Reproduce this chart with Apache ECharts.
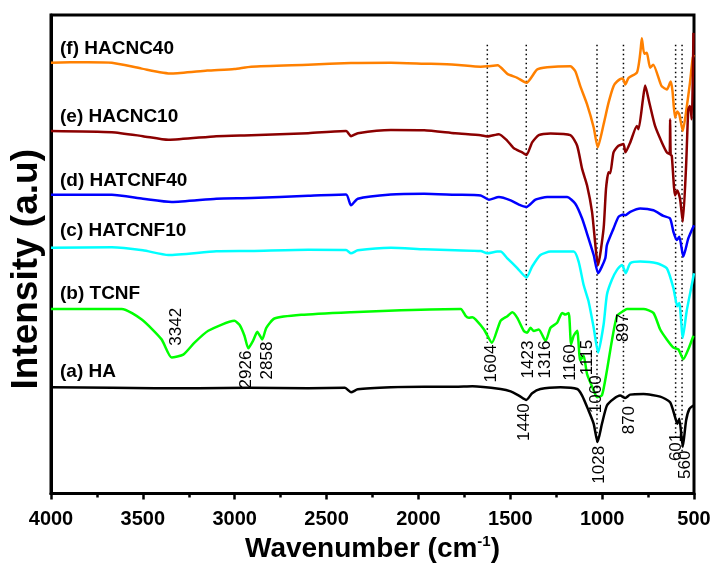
<!DOCTYPE html>
<html><head><meta charset="utf-8">
<script src="https://cdn.jsdelivr.net/npm/echarts/dist/echarts.min.js"></script>
<style>html,body{margin:0;padding:0;background:#fff}#c{width:714px;height:568px}</style>
</head><body><div id="c"></div>
<script>
// ---- data (wavenumber cm-1, intensity a.u. with stacking offset) ----
const seriesNames = ['(f) HACNC40', '(e) HACNC10', '(d) HATCNF40', '(c) HATCNF10', '(b) TCNF', '(a) HA'];
const seriesColors = ['#FF8000', '#8B0000', '#0000FF', '#00FFFF', '#00FF00', '#000000'];
const seriesLabelLevel = [448, 380, 315, 265, 201, 123];
const seriesLabelAt = 3951;

const specF = [[4000,434],[3800,434.5],[3669,434],[3506,428],[3343,423],[3150,426],[3002,427.7],[2910,430],[2600,432],[2367,433.7],[2150,434],[1969,433],[1800,432],[1661,430],[1625,430.3],[1569,431.3],[1516,422.7],[1462,418.7],[1412,413.7],[1354,427],[1299,429.3],[1173,430.3],[1146,425.3],[1119,410.3],[1082,392],[1046,368.7],[1024,348.7],[992,372],[965,393.7],[938,410.3],[919,415],[892,418],[884,417],[874,412],[856,418.7],[811,424],[797,437],[790,448],[784,458.7],[771,443],[757,444],[739,429],[722,432],[684,413.7],[675,410],[648,407],[630,414],[626,415],[617,405.3],[603,378.7],[591,384.7],[580,382],[561,365.3],[540,388.7],[522,413.7],[507,438.7],[500,442]];

const specE = [[4000,365.3],[3669,364],[3500,360],[3361,356.3],[3100,360],[2910,361],[2600,363],[2394,365.3],[2367,360],[2330,363],[2150,366.3],[1969,366],[1800,363],[1661,361],[1625,359.7],[1562,362],[1516,355.3],[1480,347.7],[1435,343.7],[1412,341],[1381,353.7],[1345,361],[1281,362.7],[1173,361],[1136,350.3],[1109,327],[1082,310.3],[1055,283.7],[1022,230.3],[992,267],[979,307],[965,323.7],[956,322.7],[938,343.7],[911,350.3],[884,352],[873,343.7],[847,353.7],[811,370.3],[802,367],[778,397],[766,411],[743,393.7],[712,370.3],[675,353.7],[648,343.7],[633,342],[630,377],[627,341],[621,340.3],[603,300.3],[591,305.3],[576,297],[561,273.7],[543,330.3],[531,387],[522,390.3],[512,377],[503,464]];

const specD = [[4000,301],[3669,301],[3500,297],[3343,293.7],[3100,297],[2910,297.7],[2600,300],[2394,301.3],[2367,290.3],[2330,297],[2150,301.3],[1969,302],[1800,301],[1661,300.3],[1616,296],[1562,298.7],[1498,295.3],[1453,291],[1412,288.7],[1363,296],[1299,298.7],[1191,298.7],[1146,292],[1109,277],[1074,257],[1046,240.3],[1022,222],[983,237],[974,250.3],[938,267],[911,278.7],[884,281],[874,280.3],[847,283.7],[793,287],[721,285.3],[667,279.7],[630,277],[612,263.7],[594,255.3],[580,258.7],[558,238.7],[531,257],[500,270.3]];

const specC = [[4000,247.7],[3669,248],[3500,245],[3361,240.3],[3100,244],[2910,244.3],[2600,245.5],[2394,245.3],[2367,242],[2330,245],[2150,247.7],[1969,246],[1800,245],[1661,244.3],[1625,242],[1571,243.7],[1553,243.7],[1516,237],[1462,227],[1412,217.7],[1381,228.7],[1336,240.3],[1281,243.7],[1155,243.7],[1128,233.7],[1101,210.3],[1074,193.7],[1046,167],[1022,142],[992,170.3],[974,200.3],[947,215.3],[919,225.3],[892,230.3],[871,222],[847,232],[793,233.7],[702,232],[648,227],[612,207],[591,188.7],[580,192],[561,157],[540,183.7],[512,210.3],[500,222]];

const specB = [[4000,186],[3615,186],[3506,175.3],[3398,155.3],[3343,137],[3280,140],[3219,152],[3144,164],[3002,174],[2974,170],[2947,159],[2926,146.3],[2900,154],[2877,163],[2866,160],[2850,155.3],[2828,167],[2784,176.3],[2638,180],[2367,182.7],[2095,184.7],[1770,186],[1743,179],[1726,177],[1706,177.7],[1688,175.3],[1643,165.3],[1600,152],[1553,174],[1516,178.7],[1489,182.7],[1462,177],[1426,163.7],[1408,162],[1390,167],[1372,163.7],[1345,165.3],[1308,153.7],[1281,167],[1245,172],[1218,182],[1200,180.3],[1182,182],[1169,150.3],[1155,159],[1136,164],[1119,134],[1101,139],[1082,120.3],[1046,104],[1028,97],[1001,99],[974,124],[947,154],[919,179],[884,184],[865,186],[775,186],[721,182],[684,165.3],[648,155.3],[612,147],[585,145.3],[558,135.3],[531,145.3],[503,159]];

const specA = [[4000,107],[3669,106.5],[3200,106],[2926,106.5],[2600,106],[2400,106.5],[2367,102],[2330,105],[2150,107],[1969,107.5],[1800,107.5],[1706,108],[1553,105.3],[1498,103],[1453,98.7],[1413,94.3],[1381,101],[1336,105.3],[1227,107],[1136,105.3],[1109,98.7],[1074,83.7],[1046,70.3],[1025,52],[1001,70.3],[974,88.7],[938,95.3],[902,98.7],[874,96.3],[847,99.7],[775,100.3],[684,97.7],[630,92],[603,77],[591,70.3],[580,75.3],[561,47],[543,73.7],[525,85.3],[503,88.7]];

const peakText  = ['3342','2926','2858','1604','1423','1316','1160','1115','1060','897','1440','870','1028','601','560'];
const peakAt    = [3316, 2936, 2824, 1602, 1402, 1308, 1173, 1082, 1032, 884, 1426, 851, 1016, 594, 549];
const peakLevel = [168, 125, 134, 131, 135, 135, 132, 137, 100, 167, 72, 74, 29, 47, 29];

const guideAt     = [1625, 1413, 1028, 884, 600, 565];
const guideTop    = [452, 452, 452, 452, 452, 452];
const guideBottom = [152, 167, 50, 92, 57, 42];

const spectra = [specF, specE, specD, specC, specB, specA];

// ---- chart ----
const chart = echarts.init(document.getElementById('c'));
const series = [];
guideAt.forEach((w, i) => {
  series.push({
    type: 'line', data: [[w, guideTop[i]], [w, guideBottom[i]]], showSymbol: false, silent: true, z: 1,
    lineStyle: { color: '#000', width: 1.5, type: [1.5, 3] }
  });
});
spectra.forEach((d, i) => {
  series.push({
    type: 'line', name: seriesNames[i], data: d, showSymbol: false, z: 3, smooth: 0.2,
    lineStyle: { color: seriesColors[i], width: 2.5, join: 'round' }, itemStyle: { color: seriesColors[i] }
  });
});
series.push({
  type: 'scatter', symbolSize: 0, z: 5, silent: true, itemStyle: { opacity: 1 },
  data: seriesNames.map((n, i) => ({ value: [seriesLabelAt, seriesLabelLevel[i]], name: n })),
  label: { show: true, position: 'right', distance: 0, formatter: p => p.name, opacity: 1, textBorderWidth: 0,
    fontFamily: 'Liberation Sans, Arial', fontWeight: 'bold', fontSize: 19, color: '#000' }
});
series.push({
  type: 'scatter', symbolSize: 0, z: 5, silent: true, itemStyle: { opacity: 1 },
  data: peakText.map((t, i) => ({ value: [peakAt[i], peakLevel[i]], name: t })),
  label: { show: true, position: 'inside', rotate: 90, formatter: p => p.name, opacity: 1, textBorderWidth: 0,
    fontFamily: 'Liberation Sans, Arial', fontSize: 17, color: '#000' }
});

chart.setOption({
  animation: false,
  backgroundColor: '#fff',
  grid: { left: 49, right: 20, top: 15, bottom: 71, show: true, borderColor: '#000', borderWidth: 3, backgroundColor: 'transparent' },
  xAxis: {
    type: 'value', inverse: true, min: 500, max: 4000, interval: 500,
    name: 'Wavenumber (cm{sup|-1})', nameLocation: 'middle', nameGap: 38,
    nameTextStyle: { fontFamily: 'Liberation Sans, Arial', fontWeight: 'bold', fontSize: 28, color: '#000',
      rich: { sup: { fontFamily: 'Liberation Sans, Arial', fontWeight: 'bold', fontSize: 15, color: '#000', verticalAlign: 'top', padding: [0, 0, 14, 0] } } },
    axisLine: { lineStyle: { color: '#000', width: 3 } },
    axisTick: { show: true, inside: false, length: 6, lineStyle: { color: '#000', width: 2.5 } },
    minorTick: { show: true, splitNumber: 2, length: 4, lineStyle: { color: '#000', width: 2.5 } },
    axisLabel: { margin: 16, formatter: v => String(v), fontFamily: 'Liberation Sans, Arial', fontWeight: 'bold', fontSize: 20, color: '#000' },
    splitLine: { show: false }
  },
  yAxis: {
    type: 'value', min: 0, max: 482,
    name: 'Intensity (a.u)', nameLocation: 'middle', nameGap: 6,
    nameTextStyle: { fontFamily: 'Liberation Sans, Arial', fontWeight: 'bold', fontSize: 37, color: '#000', padding: [0, 30, 0, 0] },
    axisLine: { show: true, lineStyle: { color: '#000', width: 3 } },
    axisTick: { show: false }, axisLabel: { show: false }, splitLine: { show: false }
  },
  series: series
});
</script>
</body></html>
